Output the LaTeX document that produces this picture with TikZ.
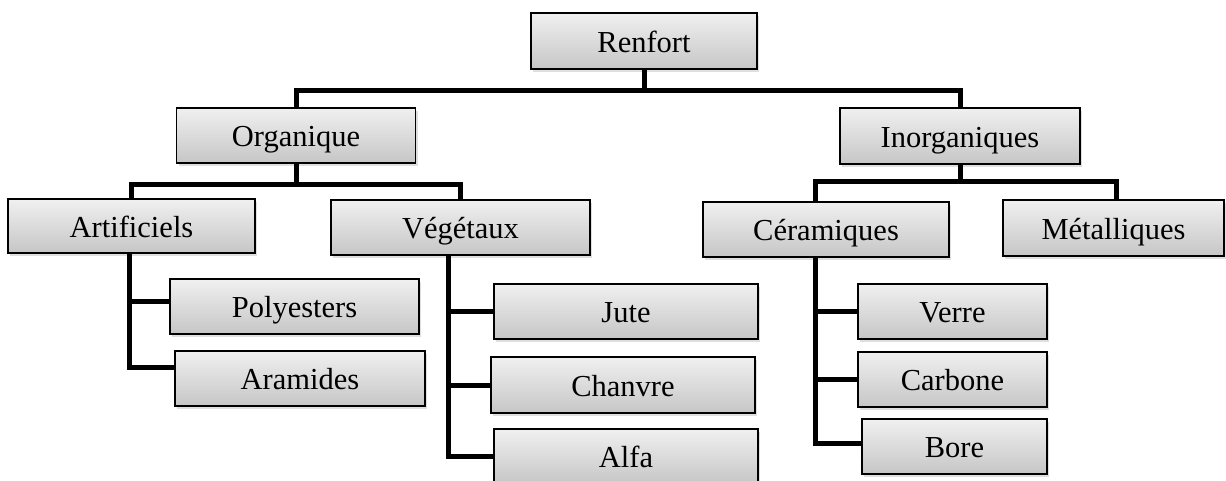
\documentclass[tikz,border=0pt]{standalone}
\usepackage{fontspec}
\setmainfont{Liberation Serif}
\usepackage{tikz}
\usetikzlibrary{shadows}
\definecolor{boxtop}{RGB}{240, 240, 240}
\definecolor{boxbottom}{RGB}{198, 198, 198}

\tikzset{
  catbox/.style={draw=black, line width=1.5pt, top color=boxtop, bottom color=boxbottom,
    drop shadow={opacity=0.25, shadow xshift=2pt, shadow yshift=-3pt},
    inner sep=0pt, text height=25pt, text depth=3pt,
    font=\fontsize{30.5}{35}\selectfont},
  branch/.style={line width=5pt, black}
}

\begin{document}
\begin{tikzpicture}[x=1pt, y=-1pt]
  \useasboundingbox (0,0) rectangle (1226,480);

  % Top level
  \node[catbox, minimum width=226pt, minimum height=56pt] (renfort) at (644, 41) {Renfort};
  \node[catbox, minimum width=239pt, minimum height=55pt] (organique) at (296, 135.5) {Organique};
  \node[catbox, minimum width=240pt, minimum height=56pt] (inorganiques) at (960, 136) {Inorganiques};

  % Organic fibres
  \node[catbox, minimum width=247pt, minimum height=54pt] (artificiels) at (131.5, 226) {Artificiels};
  \node[catbox, minimum width=259pt, minimum height=55pt] (vegetaux) at (460.5, 227.5) {Végétaux};
  \node[catbox, minimum width=249pt, minimum height=55pt] (polyesters) at (294.5, 306.5) {Polyesters};
  \node[catbox, minimum width=250pt, minimum height=55pt] (aramides) at (300, 378.5) {Aramides};
  \node[catbox, minimum width=264pt, minimum height=55pt] (jute) at (626, 311.5) {Jute};
  \node[catbox, minimum width=264pt, minimum height=56pt] (chanvre) at (623, 385) {Chanvre};
  \node[catbox, minimum width=264pt, minimum height=55pt] (alfa) at (626, 456.5) {Alfa};

  % Inorganic fibres
  \node[catbox, minimum width=246pt, minimum height=55pt] (ceramiques) at (826, 229.5) {Céramiques};
  \node[catbox, minimum width=221pt, minimum height=56pt] (metalliques) at (1113.5, 228) {Métalliques};
  \node[catbox, minimum width=189pt, minimum height=55pt] (verre) at (952.5, 311.5) {Verre};
  \node[catbox, minimum width=189pt, minimum height=55pt] (carbone) at (952.5, 379.5) {Carbone};
  \node[catbox, minimum width=185pt, minimum height=55pt] (bore) at (954.5, 446.5) {Bore};

  % Tree connectors
  \coordinate (barrenfort) at (644, 90);
  \coordinate (barorganique) at (296, 184);
  \coordinate (barinorganiques) at (960, 181);
  \draw[branch] (renfort.south) -- (barrenfort);
  \draw[branch] (organique.north) |- (barrenfort) -| (inorganiques.north);
  \draw[branch] (organique.south) -- (barorganique);
  \draw[branch] (artificiels.north) |- (barorganique) -| (vegetaux.north);
  \draw[branch] (inorganiques.south) -- (barinorganiques);
  \draw[branch] ([xshift=-11pt]ceramiques.north) |- (barinorganiques) -| ([xshift=3pt]metalliques.north);

  \draw[branch] ([xshift=-2pt]artificiels.south) |- ([yshift=5pt]polyesters.west);
  \draw[branch] ([xshift=-2pt]artificiels.south) |- ([yshift=11pt]aramides.west);
  \draw[branch] ([xshift=-12pt]vegetaux.south) |- (jute.west);
  \draw[branch] ([xshift=-12pt]vegetaux.south) |- (chanvre.west);
  \draw[branch] ([xshift=-12pt]vegetaux.south) |- (alfa.west);
  \draw[branch] ([xshift=-11pt]ceramiques.south) |- (verre.west);
  \draw[branch] ([xshift=-11pt]ceramiques.south) |- (carbone.west);
  \draw[branch] ([xshift=-11pt]ceramiques.south) |- ([yshift=3pt]bore.west);
\end{tikzpicture}
\end{document}
